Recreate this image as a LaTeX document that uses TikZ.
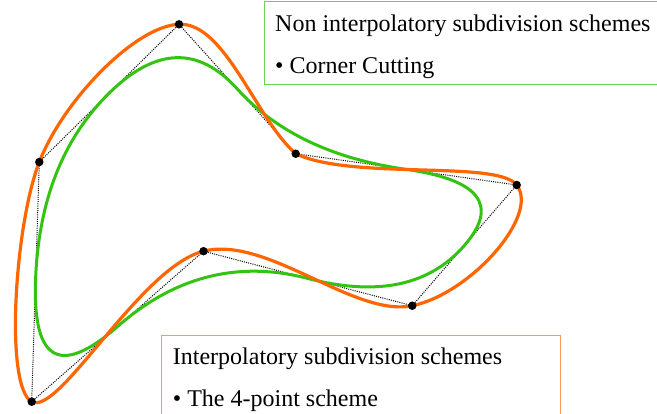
\documentclass[tikz,border=0pt]{standalone}
\usepackage{fontspec}
\setmainfont{Liberation Serif}
\usetikzlibrary{calc}
\definecolor{curveorange}{RGB}{255,102,0}
\definecolor{curvegreen}{RGB}{51,196,17}
\definecolor{boxgreen}{RGB}{102,214,80}
\definecolor{boxorange}{RGB}{255,150,90}
\tikzset{
  ctrlpoly/.style={black, line width=1pt, dash pattern=on 1pt off 1.2pt},
  interp/.style={curveorange, line width=3.2pt},
  approx/.style={curvegreen, line width=3pt},
  vertex/.style={circle, fill=black, inner sep=0pt, minimum size=8.5pt},
  infobox/.style={fill=white, line width=1pt},
  label/.style={anchor=base west, inner sep=0pt, font=\fontsize{24}{28}\selectfont}
}
\begin{document}
\begin{tikzpicture}[x=1pt, y=-1pt]
\clip (0,0) rectangle (657,413);
\fill[white] (0,0) rectangle (657,413);
% control points
\coordinate (P0) at (179,24.3);
\coordinate (P1) at (39.3,162);
\coordinate (P2) at (31.7,401.7);
\coordinate (P3) at (203.5,251.2);
\coordinate (P4) at (412.3,305.7);
\coordinate (P5) at (516.7,185);
\coordinate (P6) at (295.7,153.7);
% edge midpoints
\coordinate (M01) at ($(P0)!0.5!(P1)$);
\coordinate (M12) at ($(P1)!0.5!(P2)$);
\coordinate (M23) at ($(P2)!0.5!(P3)$);
\coordinate (M34) at ($(P3)!0.5!(P4)$);
\coordinate (M45) at ($(P4)!0.5!(P5)$);
\coordinate (M56) at ($(P5)!0.5!(P6)$);
\coordinate (M60) at ($(P6)!0.5!(P0)$);
% control polygon
\draw[ctrlpoly] (P0) -- (P1) -- (P2) -- (P3) -- (P4) -- (P5) -- (P6) -- cycle;
% corner cutting limit curve
\draw[approx] (M60)
  .. controls ($(M60)!2/3!(P0)$) and ($(M01)!2/3!(P0)$) .. (M01)
  .. controls ($(M01)!2/3!(P1)$) and ($(M12)!2/3!(P1)$) .. (M12)
  .. controls ($(M12)!2/3!(P2)$) and ($(M23)!2/3!(P2)$) .. (M23)
  .. controls ($(M23)!2/3!(P3)$) and ($(M34)!2/3!(P3)$) .. (M34)
  .. controls ($(M34)!2/3!(P4)$) and ($(M45)!2/3!(P4)$) .. (M45)
  .. controls ($(M45)!2/3!(P5)$) and ($(M56)!2/3!(P5)$) .. (M56)
  .. controls ($(M56)!2/3!(P6)$) and ($(M60)!2/3!(P6)$) .. (M60) -- cycle;
% interpolating curve
\draw[interp] (P0)
  .. controls (136.27,25.68) and (63.85,99.1) .. (P1)
  .. controls (14.75,224.9) and (4.33,386.8) .. (P2)
  .. controls (59.07,416.57) and (140.07,267.2) .. (P3)
  .. controls (266.93,235.2) and (354.3,317.7) .. (P4)
  .. controls (470.3,293.7) and (540,215.4) .. (P5)
  .. controls (497.27,159.67) and (351.98,180.48) .. (P6)
  .. controls (255.7,118.7) and (225,22) .. (P0) -- cycle;
% vertices
\foreach \p in {0,...,6} \node[vertex] (V\p) at (P\p) {};
% boxes
\draw[infobox, draw=boxgreen] (264,1) rectangle (670,84);
\node[label] (t1) at (275,31.7) {Non interpolatory subdivision schemes};
\node[label] (t2) at (275,73) {• Corner Cutting};
\draw[infobox, draw=boxorange] (161.7,335) rectangle (560,430);
\node[label] (t3) at (172.7,364.3) {Interpolatory subdivision schemes};
\node[label] (t4) at (172.7,406) {• The 4-point scheme};
\end{tikzpicture}
\end{document}
